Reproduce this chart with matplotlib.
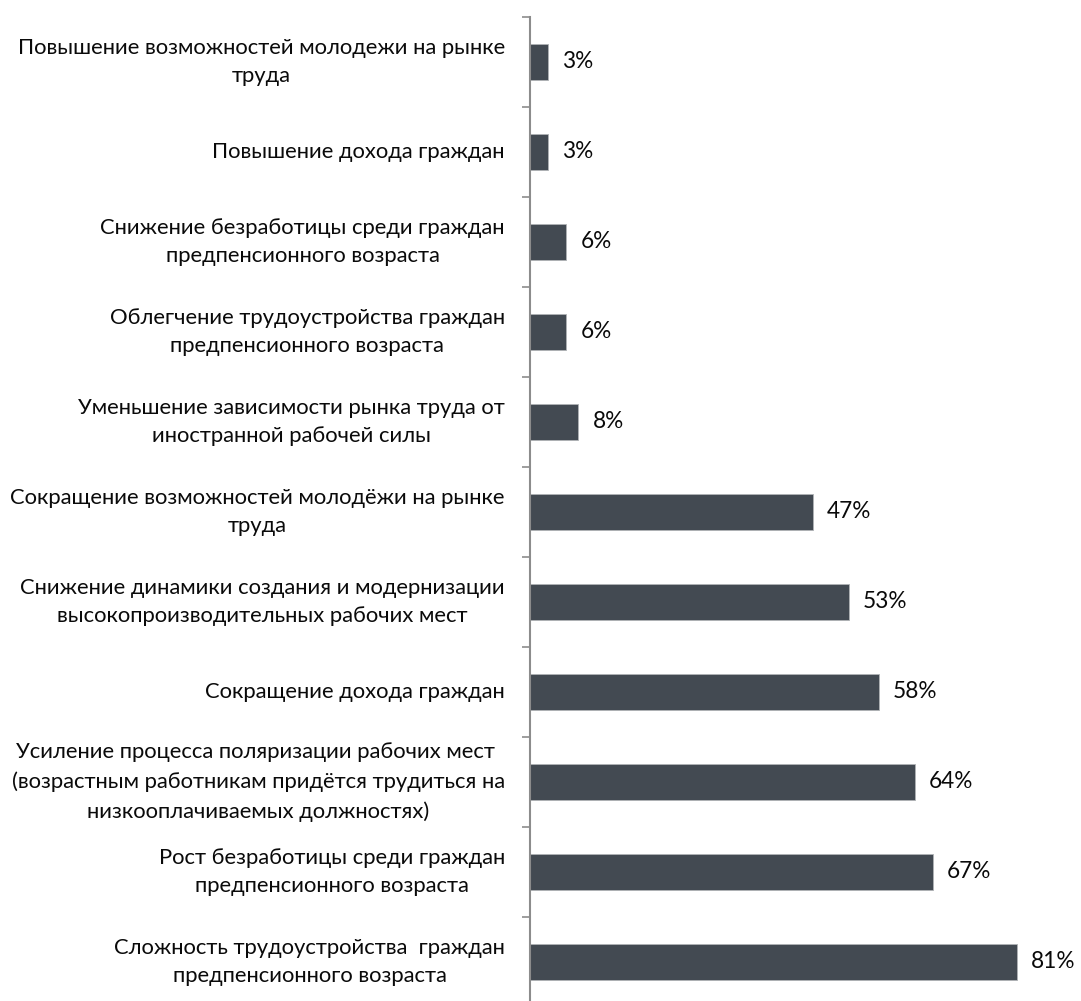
import matplotlib
matplotlib.use("Agg")
import matplotlib.pyplot as plt
import matplotlib.transforms as mtrans

categories = [
    "Повышение возможностей молодежи на рынке\nтруда",
    "Повышение дохода граждан",
    "Снижение безработицы среди граждан\nпредпенсионного возраста",
    "Облегчение трудоустройства граждан\nпредпенсионного возраста",
    "Уменьшение зависимости рынка труда от\nиностранной рабочей силы",
    "Сокращение возможностей молодёжи на рынке\nтруда",
    "Снижение динамики создания и модернизации\nвысокопроизводительных рабочих мест",
    "Сокращение дохода граждан",
    "Усиление процесса поляризации рабочих мест \n(возрастным работникам придётся трудиться на\nнизкооплачиваемых должностях)",
    "Рост безработицы среди граждан\nпредпенсионного возраста",
    "Сложность трудоустройства  граждан\nпредпенсионного возраста",
]
values = [3, 3, 6, 6, 8, 47, 53, 58, 64, 67, 81]

plt.rcParams['font.family'] = ['Lato', 'DejaVu Sans']

fig = plt.figure(figsize=(10.81, 10.01), dpi=100)
ax = fig.add_axes([530/1081, 1 - 1007/1001, 541/1081, 990/1001])

ypos = list(range(len(categories)))
ax.barh(ypos, values, height=0.4, color="#434A52", edgecolor="#B0B3B6", linewidth=0.6)
ax.set_ylim(len(categories) - 0.5, -0.5)
ax.set_xlim(0, 90)

for y, v in zip(ypos, values):
    ax.text(v + 2.4, y, f"{v}%", va="center", ha="left", fontsize=16.3, color="#0A0A0A")

label_tr = mtrans.offset_copy(ax.get_yaxis_transform(), fig=fig, x=-25, y=0, units='dots')
for y, c in zip(ypos, categories):
    ax.text(0, y, c, va="center", ha="right", fontsize=15.8, color="#0A0A0A",
            multialignment="center", linespacing=1.55, transform=label_tr)

ax.set_yticks([i - 0.5 for i in range(len(categories) + 1)])
ax.set_yticklabels([])
ax.tick_params(axis='y', direction='out', length=6, width=1.2, color="#8C8C8C")
ax.set_xticks([])
for s in ["top", "right", "bottom"]:
    ax.spines[s].set_visible(False)
ax.spines["left"].set_color("#8C8C8C")
ax.spines["left"].set_linewidth(1.5)

fig.savefig("out.png", dpi=100)
